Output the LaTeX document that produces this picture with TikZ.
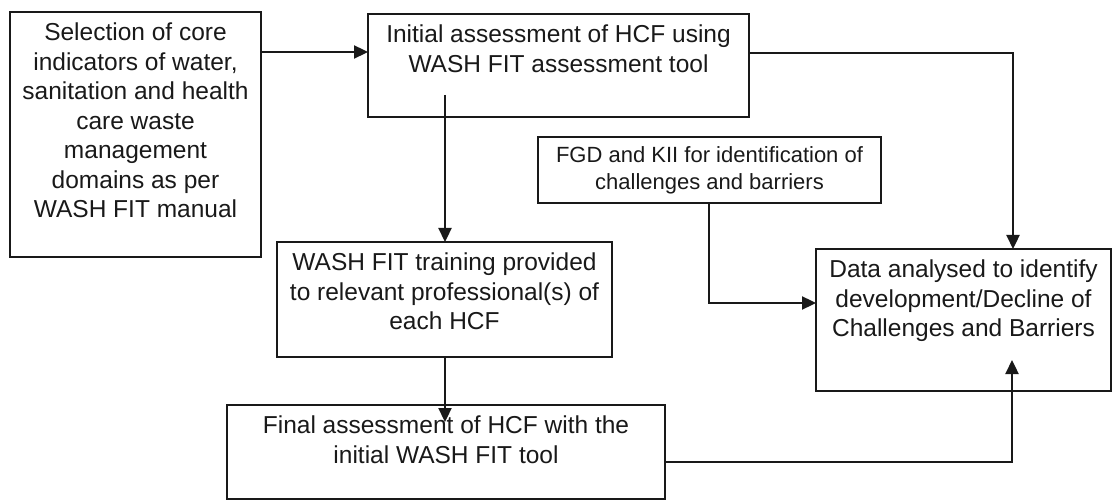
\documentclass[tikz,border=0pt]{standalone}
\usepackage{fontspec}
\setmainfont{Liberation Sans}
\usetikzlibrary{arrows.meta}
\begin{document}
\begin{tikzpicture}[x=1pt,y=-1pt,
  box/.style={draw=black!90, line width=2.6pt, rectangle, inner sep=0pt, outer sep=0pt, anchor=north west},
  txt/.style={inner sep=0pt, align=center, font=\fontsize{24.5}{29.5}\selectfont, text=black!90, anchor=north},
  smalltxt/.style={txt, font=\fontsize{22}{27.5}\selectfont},
  conn/.style={draw=black!90, line width=2.3pt, -{Triangle[length=14pt,width=13pt]}}]
\useasboundingbox (0,0) rectangle (1113,502);

\node[box, minimum width=251pt, minimum height=245pt] (b1) at (10,12) {};
\node[txt] (t1) at ([yshift=-11pt]b1.north) {Selection of core\\indicators of water,\\sanitation and health\\care waste\\management\\domains as per\\WASH FIT manual};

\node[box, minimum width=381pt, minimum height=103pt] (b2) at (368,14) {};
\node[txt] (t2) at ([yshift=-11pt]b2.north) {Initial assessment of HCF using\\WASH FIT assessment tool};

\node[box, minimum width=343pt, minimum height=66pt] (b3) at (538,137) {};
\node[smalltxt] (t3) at ([yshift=-9pt]b3.north) {FGD and KII for identification of\\challenges and barriers};

\node[box, minimum width=295pt, minimum height=142pt] (b4) at (816,249) {};
\node[txt] (t4) at ([yshift=-11pt]b4.north) {Data analysed to identify\\development/Decline of\\Challenges and Barriers};

\node[box, minimum width=335pt, minimum height=115pt] (b5) at (277,242) {};
\node[txt] (t5) at ([yshift=-11pt]b5.north) {WASH FIT training provided\\to relevant professional(s) of\\each HCF};

\node[box, minimum width=438pt, minimum height=94pt] (b6) at (227,405) {};
\node[txt] (t6) at ([yshift=-11pt]b6.north) {Final assessment of HCF with the\\initial WASH FIT tool};

\coordinate (c2) at (445,95);
\coordinate (c5) at (445,422);
\coordinate (c3) at (1013,53);
\coordinate (c4) at (709,303);
\coordinate (c6) at (1012,462);
\coordinate (c6t) at (1012,360);

\draw[conn] ([yshift=-40pt]b1.north east) -- ([yshift=-38pt]b2.north west);
\draw[conn] (c2) -- (c2 |- b5.north);
\draw[conn] (c2 |- b5.south) -- (c5);
\draw[conn] (b2.east |- c3) -| (c3 |- b4.north);
\draw[conn] (c4 |- b3.south) |- (b4.west |- c4);
\draw[conn] (b6.east |- c6) -| (c6t);
\end{tikzpicture}
\end{document}
